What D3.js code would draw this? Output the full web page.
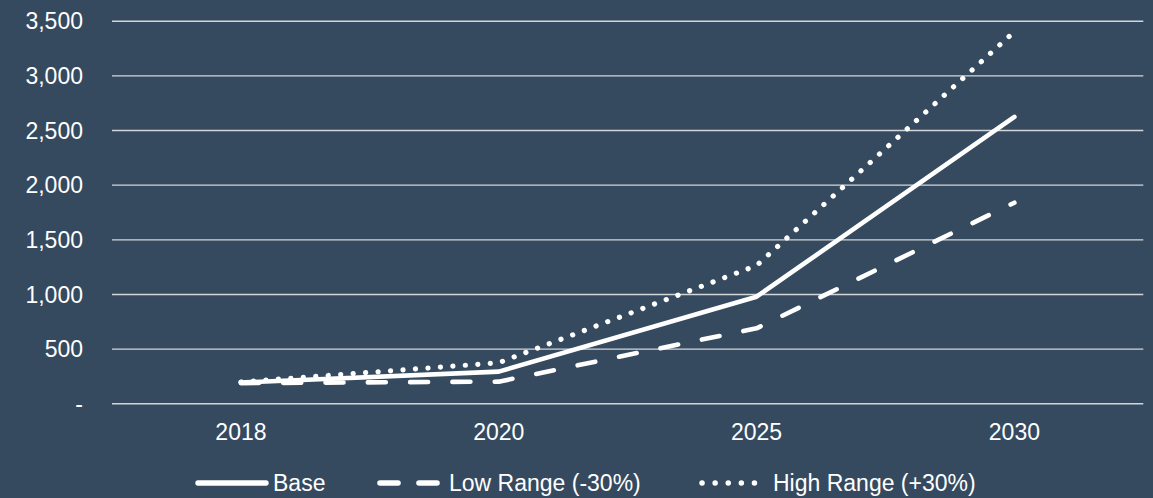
<!DOCTYPE html>
<html>
<head>
<meta charset="utf-8">
<script src="https://cdn.jsdelivr.net/npm/d3@7"></script>
<style>
  html, body { margin: 0; padding: 0; background: #354a5f; }
  svg { display: block; font-family: "Liberation Sans", Arial, sans-serif; }
</style>
</head>
<body>
<svg id="chart" width="1153" height="498"></svg>
<script>
// Projection years and the three scenarios
const years = ["2018", "2020", "2025", "2030"];
const baseValues = [190, 290, 975, 2620];
const lowValues = [185, 198, 686, 1835];
const highValues = [195, 371, 1260, 3400];
const yTicks = [0, 500, 1000, 1500, 2000, 2500, 3000, 3500];
const seriesNames = ["Base", "Low Range (-30%)", "High Range (+30%)"];

const svg = d3.select("#chart");
const W = 1153, H = 498;
const m = { left: 112, right: 9.7, top: 20.7, bottom: 94.7 };
const FONT = 23;

const x = d3.scaleBand().domain(years).range([m.left, W - m.right]);
const y = d3.scaleLinear().domain([0, 3500]).range([H - m.bottom, m.top]);

const fmt = v => v === 0 ? "-" : d3.format(",")(v);

// Horizontal gridlines with value labels
const yAxis = d3.axisLeft(y).tickValues(yTicks).tickFormat(fmt)
  .tickSize(-(x.range()[1] - m.left));
const gy = svg.append("g").attr("transform", `translate(${m.left},0)`).call(yAxis);
gy.select(".domain").remove();
gy.selectAll(".tick line").attr("stroke", "#d3d6d9").attr("stroke-width", 1.4);
gy.selectAll(".tick text")
  .attr("fill", "#ffffff")
  .attr("font-size", FONT)
  .attr("x", -29)
  .attr("dy", "0.35em");

// Category labels
const gx = svg.append("g").attr("transform", `translate(0,${H - m.bottom})`)
  .call(d3.axisBottom(x).tickSize(0));
gx.select(".domain").remove();
gx.selectAll(".tick text")
  .attr("fill", "#ffffff")
  .attr("font-size", FONT)
  .attr("y", 440 - (H - m.bottom))
  .attr("dy", 0);

const cx = d => x(d) + x.bandwidth() / 2;
const line = d3.line().x((d, i) => cx(years[i])).y(d => y(d));

const styles = [
  { values: baseValues, dash: null, w: 4.6 },
  { values: lowValues, dash: "18,24.3", w: 4.6 },
  { values: highValues, dash: "0.1,12.4", w: 5.2 }
];

styles.slice().reverse().forEach(s => {
  svg.append("path")
    .datum(s.values)
    .attr("d", line)
    .attr("fill", "none")
    .attr("stroke", "#ffffff")
    .attr("stroke-width", s.w)
    .attr("stroke-linecap", "round")
    .attr("stroke-linejoin", "round")
    .attr("stroke-dasharray", s.dash);
});

// Legend
const legendY = 483;
const legendItems = [
  { name: seriesNames[0], x1: 198, x2: 266, dash: null, w: 5.4, tx: 273 },
  { name: seriesNames[1], x1: 380, x2: 441, dash: "18,21", w: 5.6, tx: 449 },
  { name: seriesNames[2], x1: 702, x2: 767, dash: "0.1,13", w: 5.4, tx: 773 }
];
const lg = svg.append("g");
legendItems.forEach(it => {
  lg.append("line")
    .attr("x1", it.x1).attr("x2", it.x2)
    .attr("y1", legendY).attr("y2", legendY)
    .attr("stroke", "#ffffff").attr("stroke-width", it.w)
    .attr("stroke-linecap", "round")
    .attr("stroke-dasharray", it.dash);
  lg.append("text")
    .attr("x", it.tx).attr("y", 490.5)
    .attr("fill", "#ffffff").attr("font-size", FONT)
    .text(it.name);
});
</script>
</body>
</html>
